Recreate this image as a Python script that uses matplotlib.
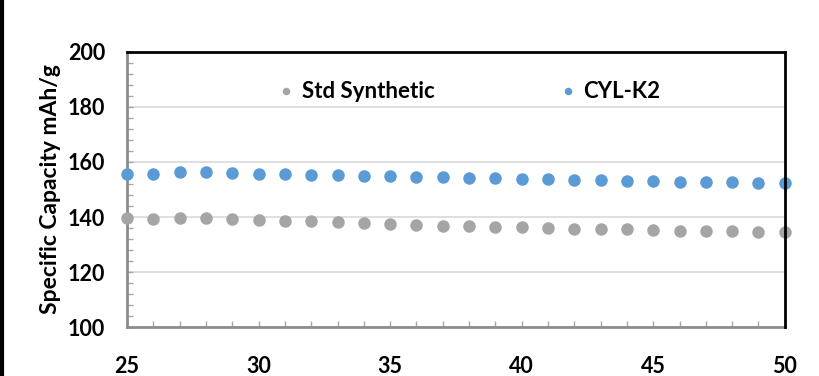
import numpy as np
import matplotlib.pyplot as plt
from matplotlib.ticker import MultipleLocator

plt.rcParams['font.family'] = ['Lato', 'DejaVu Sans']
plt.rcParams['font.weight'] = 'bold'

cycles = list(range(25, 51))
std_synthetic = [139.5, 139.2, 139.8, 139.5, 139.2, 139.0, 138.7, 138.4, 138.1,
                 137.8, 137.5, 137.2, 136.9, 136.7, 136.5, 136.3, 136.0, 135.8,
                 135.7, 135.5, 135.3, 135.1, 135.0, 134.8, 134.7, 134.5]
cyl_k2 = [155.5, 155.5, 156.3, 156.2, 156.0, 155.8, 155.6, 155.4, 155.1,
          154.9, 154.8, 154.6, 154.4, 154.2, 154.0, 153.9, 153.7, 153.5,
          153.4, 153.2, 153.0, 152.9, 152.7, 152.6, 152.4, 152.3]

gray = '#A5A5A5'
blue = '#5B9BD5'

fig = plt.figure(figsize=(8.2, 3.76), dpi=100)
ax = fig.add_axes([0.155, 0.130, 0.802, 0.732])

ax.plot(cycles, std_synthetic, 'o', color=gray, ms=9, mew=0,
        label='Std Synthetic', clip_on=False, zorder=3)
ax.plot(cycles, cyl_k2, 'o', color=blue, ms=9, mew=0,
        label='CYL-K2', clip_on=False, zorder=3)

ax.set_xlim(25, 50)
ax.set_ylim(100, 200)
ax.xaxis.set_major_locator(MultipleLocator(5))
ax.xaxis.set_minor_locator(MultipleLocator(1))
ax.yaxis.set_major_locator(MultipleLocator(20))
ax.yaxis.set_minor_locator(MultipleLocator(4))
ax.grid(axis='y', color='#D9D9D9', lw=1.2)
ax.set_axisbelow(True)

ax.tick_params(which='both', direction='in', color='#A6A6A6', length=4, width=1)
ax.tick_params(axis='x', which='major', labelsize=15.5, pad=21)
ax.tick_params(axis='y', which='major', labelsize=15.5, pad=16)

for s in ['left', 'bottom']:
    ax.spines[s].set_color('#8C8C8C')
    ax.spines[s].set_linewidth(2)
for s in ['top', 'right']:
    ax.spines[s].set_color('black')
    ax.spines[s].set_linewidth(2)
    ax.spines[s].set_zorder(4)

ax.set_ylabel('Specific Capacity mAh/g', fontsize=16.5, fontweight='bold', labelpad=5)

ax.legend(loc='center', bbox_to_anchor=(0.522, 0.855), ncol=2, frameon=False,
          fontsize=16, markerscale=0.6, handlelength=0.5, handletextpad=0.45,
          columnspacing=5.75)

# dark frame line at the left edge of the image
fig.add_artist(plt.Line2D([0.002, 0.002], [0, 1], color='black', lw=3,
                          transform=fig.transFigure))

fig.savefig('out.png', dpi=100)
